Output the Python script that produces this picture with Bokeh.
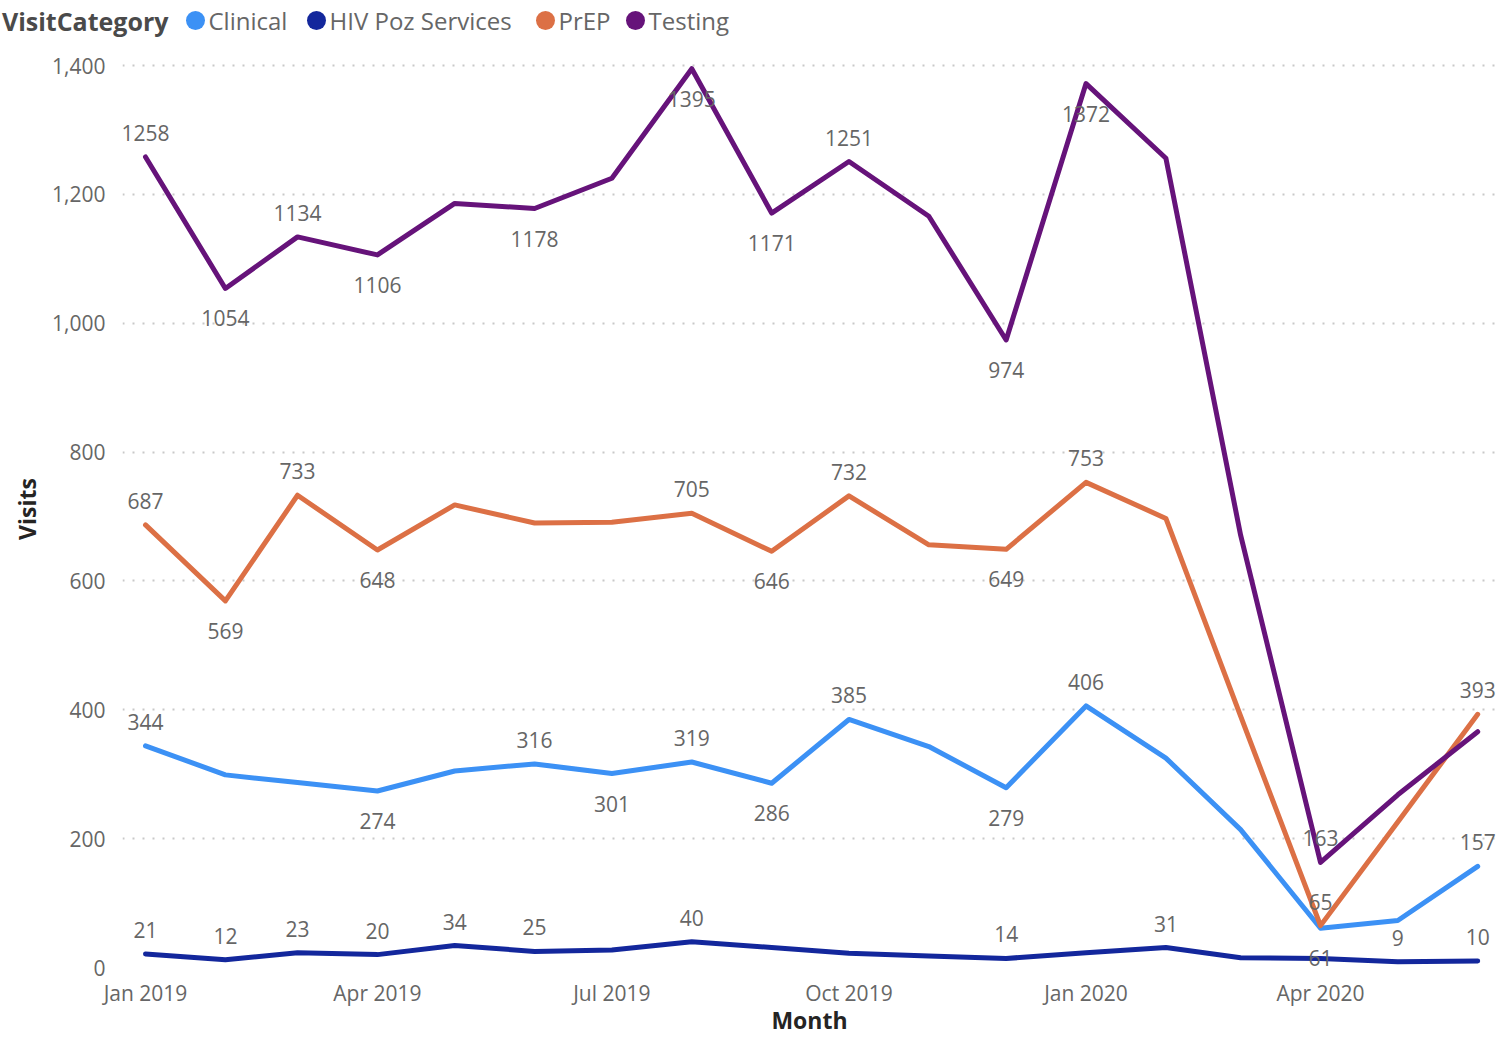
import pandas as pd
from bokeh.plotting import figure
from bokeh.models import (ColumnDataSource, Range1d, FixedTicker, NumeralTickFormatter,
                          DatetimeTickFormatter)
from bokeh.layouts import column
from bokeh.core.properties import value
from bokeh.embed import file_html
from bokeh.resources import INLINE

# ---------------- data ----------------
months = ["Jan 2019", "Feb 2019", "Mar 2019", "Apr 2019", "May 2019", "Jun 2019",
          "Jul 2019", "Aug 2019", "Sep 2019", "Oct 2019", "Nov 2019", "Dec 2019",
          "Jan 2020", "Feb 2020", "Mar 2020", "Apr 2020", "May 2020", "Jun 2020"]
tick_months = ["Jan 2019", "Apr 2019", "Jul 2019", "Oct 2019", "Jan 2020", "Apr 2020"]
categories = ["Clinical", "HIV Poz Services", "PrEP", "Testing"]

clinical = [344, 299, 287, 274, 305, 316, 301, 319, 286, 385, 343, 279, 406, 325, 214, 61, 73, 157]
hiv_poz = [21, 12, 23, 20, 34, 25, 27, 40, 31, 22, 18, 14, 23, 31, 15, 14, 9, 10]
prep = [687, 569, 733, 648, 718, 690, 691, 705, 646, 732, 656, 649, 753, 697, 390, 65, 226, 393]
testing = [1258, 1054, 1134, 1106, 1186, 1178, 1225, 1395, 1171, 1251, 1166, 974, 1372, 1256, 671, 163, 268, 366]

# which data labels are shown: a = above point, b = below point, "" = hidden
clinical_lbl = ["a", "", "", "b", "", "a", "b", "a", "b", "a", "", "b", "a", "", "", "b", "", "a"]
hiv_poz_lbl = ["a", "a", "a", "a", "a", "a", "", "a", "", "", "", "a", "", "a", "", "", "a", "a"]
prep_lbl = ["a", "b", "a", "b", "", "", "", "a", "b", "a", "", "b", "a", "", "", "a", "", "a"]
testing_lbl = ["a", "b", "a", "b", "", "b", "", "b", "b", "a", "", "b", "b", "", "", "a", "", ""]

y_ticks = [0, 200, 400, 600, 800, 1000, 1200, 1400]

# ---------------- styles ----------------
colors = ["#3C91F5", "#13279C", "#DC7045", "#66137A"]
FONT = "Open Sans"
TICK_COLOR = "#666666"
TITLE_COLOR = "#252423"

W = 1499
LEG_H = 40
MAIN_H = 998

# ---------------- legend strip ----------------
leg = figure(width=W, height=LEG_H, x_range=Range1d(0, W), y_range=Range1d(LEG_H, 0),
             toolbar_location=None, output_backend="svg",
             min_border_left=0, min_border_right=0, min_border_top=0, min_border_bottom=0)
if "frame_align" in leg.properties():
    leg.frame_align = False
leg.axis.visible = False
leg.grid.visible = False
leg.outline_line_color = None

leg_y = 20
leg.text(x=[168], y=[leg_y], text=["VisitCategory"], text_align="right", text_baseline="middle",
         text_font=value(FONT), text_font_style="bold", text_font_size="25px", text_color="#4A4A4A")
legend_marker_x = [195, 316, 545, 635]
leg.scatter(x=legend_marker_x, y=[leg_y] * 4, size=19, marker="circle", color=colors, line_color=None)
leg.text(x=[mx + 13 for mx in legend_marker_x], y=[leg_y] * 4, text=categories,
         text_align="left", text_baseline="middle", text_font=value(FONT),
         text_font_size="24px", text_color=TICK_COLOR)

# ---------------- main chart ----------------
dates = list(pd.to_datetime(months, format="%b %Y"))
day = pd.Timedelta(days=1)
x_start = dates[0] - 8.93 * day
x_end = dates[0] + 524.3 * day

p = figure(width=W, height=MAIN_H, x_axis_type="datetime",
           x_range=Range1d(x_start, x_end), y_range=Range1d(0, 1423.3),
           toolbar_location=None, output_backend="svg",
           min_border_left=122, min_border_right=3, min_border_top=10, min_border_bottom=70)
if "frame_align" in p.properties():
    p.frame_align = False
p.outline_line_color = None
p.background_fill_color = "white"

series = [clinical, hiv_poz, prep, testing]
lbls = [clinical_lbl, hiv_poz_lbl, prep_lbl, testing_lbl]
idx = list(range(len(months)))

for vals, col in zip(series, colors):
    p.line(dates, vals, line_color=col, line_width=5, line_join="round", line_cap="round")

for vals, lb in zip(series, lbls):
    for pos, off in (("a", -24), ("b", 30)):
        sel = [i for i in idx if lb[i] == pos]
        src = ColumnDataSource(dict(x=[dates[i] for i in sel], y=[vals[i] for i in sel],
                                    t=[str(vals[i]) for i in sel]))
        p.text(x="x", y="y", text="t", source=src, y_offset=off, text_align="center",
               text_baseline="middle", text_font=value(FONT), text_font_size="21px",
               text_color=TICK_COLOR)

# axes
tick_ms = [pd.Timestamp(dates[months.index(m)]).value // 10**6 for m in tick_months]
p.xaxis.ticker = FixedTicker(ticks=tick_ms)
fmt = "%b %Y"
p.xaxis.formatter = DatetimeTickFormatter(years=fmt, months=fmt, days=fmt, hours=fmt,
                                          minutes=fmt, seconds=fmt, milliseconds=fmt,
                                          microseconds=fmt, hourmin=fmt, minsec=fmt)
p.yaxis.ticker = FixedTicker(ticks=y_ticks)
p.yaxis.formatter = NumeralTickFormatter(format="0,0")

for ax in (p.xaxis, p.yaxis):
    ax.axis_line_color = None
    ax.major_tick_line_color = None
    ax.minor_tick_line_color = None
    ax.major_label_text_font = FONT
    ax.major_label_text_font_size = "21px"
    ax.major_label_text_color = TICK_COLOR
    ax.axis_label_text_font = FONT
    ax.axis_label_text_font_style = "bold"
    ax.axis_label_text_font_size = "23px"
    ax.axis_label_text_color = TITLE_COLOR

p.xaxis.axis_label = "Month"
p.yaxis.axis_label = "Visits"
p.xaxis.major_label_standoff = 5
p.yaxis.major_label_standoff = 11
p.xaxis.axis_label_standoff = -6
p.yaxis.axis_label_standoff = 6

p.xgrid.visible = False
p.ygrid.grid_line_color = "#C8C8C8"
p.ygrid.grid_line_width = 2
p.ygrid.grid_line_dash = "2 8"

layout = column(leg, p, spacing=0)
open("out.html", "w").write(file_html(layout, INLINE))
